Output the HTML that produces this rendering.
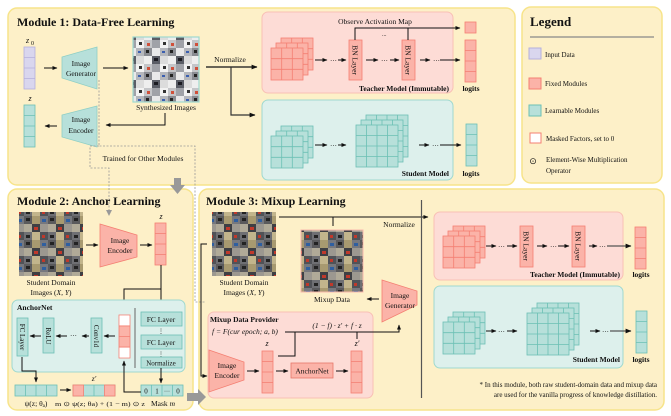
<!DOCTYPE html>
<html><head><meta charset="utf-8"><style>
html,body{margin:0;padding:0;background:#fff}
svg{display:block}
text{font-family:"Liberation Serif",serif;fill:#111}
.b{font-weight:bold}
</style></head><body>
<svg width="671" height="416" viewBox="0 0 671 416" xmlns="http://www.w3.org/2000/svg">
<defs>
<marker id="ar" viewBox="0 0 10 10" refX="9" refY="5" markerWidth="5" markerHeight="5" orient="auto"><path d="M0,1 L10,5 L0,9 z" fill="#111"/></marker>
<pattern id="img1" width="24" height="24" patternUnits="userSpaceOnUse">
<rect width="24" height="24" fill="#d4d4d6"/>
<rect x="0" y="0" width="8" height="8" fill="#8a8c92"/><rect x="8" y="0" width="8" height="8" fill="#e9e9ea"/><rect x="16" y="0" width="8" height="8" fill="#b5b7bc"/>
<rect x="0" y="8" width="8" height="8" fill="#eeeeee"/><rect x="8" y="8" width="8" height="8" fill="#5a5d66"/><rect x="16" y="8" width="8" height="8" fill="#dcdcdc"/>
<rect x="0" y="16" width="8" height="8" fill="#c4c5c8"/><rect x="8" y="16" width="8" height="8" fill="#a0a2a8"/><rect x="16" y="16" width="8" height="8" fill="#f2f2f2"/>
<rect x="2" y="2" width="3" height="3" fill="#222"/><rect x="10" y="10" width="4" height="3" fill="#1b1b22"/><rect x="18" y="3" width="3" height="2" fill="#3b5fb0"/><rect x="3" y="19" width="3" height="3" fill="#d0503a"/><rect x="19" y="18" width="3" height="3" fill="#333"/>
</pattern>
<pattern id="img2" width="24" height="24" patternUnits="userSpaceOnUse">
<rect width="24" height="24" fill="#8d8a80"/>
<rect x="0" y="0" width="8" height="8" fill="#5a5a5c"/><rect x="8" y="0" width="8" height="8" fill="#a89a70"/><rect x="16" y="0" width="8" height="8" fill="#76787e"/>
<rect x="0" y="8" width="8" height="8" fill="#b0aa98"/><rect x="8" y="8" width="8" height="8" fill="#3e3f44"/><rect x="16" y="8" width="8" height="8" fill="#9c9890"/>
<rect x="0" y="16" width="8" height="8" fill="#6e6f73"/><rect x="8" y="16" width="8" height="8" fill="#c2b58c"/><rect x="16" y="16" width="8" height="8" fill="#505257"/>
<rect x="2" y="2" width="4" height="3" fill="#222"/><rect x="10" y="11" width="4" height="3" fill="#c0392b"/><rect x="18" y="3" width="4" height="3" fill="#2f5fa0"/><rect x="2" y="19" width="4" height="3" fill="#222"/><rect x="18" y="19" width="3" height="3" fill="#c0392b"/>
</pattern>
<g id="g3t"><rect width="32" height="32" fill="#fbb3a8" stroke="#f47f72" stroke-width="0.8"/><path d="M10.7,0V32M21.3,0V32M0,10.7H32M0,21.3H32" stroke="#f47f72" stroke-width="0.8"/></g>
<g id="g3s"><rect width="32" height="32" fill="#b7e0da" stroke="#6cc0b4" stroke-width="0.8"/><path d="M10.7,0V32M21.3,0V32M0,10.7H32M0,21.3H32" stroke="#6cc0b4" stroke-width="0.8"/></g>
<g id="g4s"><rect width="42" height="42" fill="#b7e0da" stroke="#6cc0b4" stroke-width="0.8"/><path d="M10.5,0V42M21,0V42M31.5,0V42M0,10.5H42M0,21H42M0,31.5H42" stroke="#6cc0b4" stroke-width="0.8"/></g>
<g id="cT"><use href="#g3t" x="10" y="-10"/><use href="#g3t" x="5" y="-5"/><use href="#g3t"/></g>
<g id="cS"><use href="#g3s" x="10" y="-10"/><use href="#g3s" x="5" y="-5"/><use href="#g3s"/></g>
<g id="cB"><use href="#g4s" x="10" y="-10"/><use href="#g4s" x="5" y="-5"/><use href="#g4s"/></g>
<g id="vT"><rect width="11" height="42" fill="#fbb3a8" stroke="#f47f72" stroke-width="0.8"/><path d="M0,10.5H11M0,21H11M0,31.5H11" stroke="#f47f72" stroke-width="0.8"/></g>
<g id="vS"><rect width="11" height="42" fill="#b7e0da" stroke="#6cc0b4" stroke-width="0.8"/><path d="M0,10.5H11M0,21H11M0,31.5H11" stroke="#6cc0b4" stroke-width="0.8"/></g>
</defs>

<rect x="8" y="8" width="507" height="177" rx="9" fill="#fdf0c8" stroke="#f7e48a" stroke-width="1.5"/>
<rect x="522" y="7" width="140" height="176" rx="9" fill="#fdf0c8" stroke="#f7e48a" stroke-width="1.5"/>
<rect x="8" y="189" width="185" height="221" rx="9" fill="#fdf0c8" stroke="#f7e48a" stroke-width="1.5"/>
<rect x="199" y="189" width="465" height="221" rx="9" fill="#fdf0c8" stroke="#f7e48a" stroke-width="1.5"/>

<!-- ===== Module 1 ===== -->
<text x="17" y="26" class="b" font-size="12">Module 1: Data-Free Learning</text>
<text x="26" y="43" font-size="8" font-style="italic">z</text><text x="31" y="45" font-size="6">0</text>
<rect x="24" y="47" width="11" height="42" fill="#d9d6ee" stroke="#b5b0dc" stroke-width="0.8"/>
<path d="M24,57.5H35M24,68H35M24,78.5H35" stroke="#b5b0dc" stroke-width="0.8"/>
<line x1="44" y1="68" x2="57" y2="68" stroke="#111" marker-end="url(#ar)"/>
<polygon points="62,57 97,47 97,89 62,78" fill="#b7e0da" stroke="#8fcfc5" stroke-width="0.8"/>
<text x="81" y="66" font-size="7.5" text-anchor="middle">Image</text><text x="81" y="76" font-size="7.5" text-anchor="middle">Generator</text>
<line x1="103" y1="68" x2="128" y2="68" stroke="#111" marker-end="url(#ar)"/>
<rect x="133" y="37" width="66" height="65" fill="url(#img1)" stroke="#9fd9cf" stroke-width="1.2"/>
<text x="166" y="110" font-size="7.5" text-anchor="middle">Synthesized Images</text>
<text x="30" y="101" font-size="8" font-style="italic" text-anchor="middle">z</text>
<use href="#vS" x="24" y="105"/>
<polygon points="62,115 97,106 97,147 62,137" fill="#b7e0da" stroke="#8fcfc5" stroke-width="0.8"/>
<text x="81" y="122" font-size="7.5" text-anchor="middle">Image</text><text x="81" y="133" font-size="7.5" text-anchor="middle">Encoder</text>
<polyline points="165,113 165,125 106,125" fill="none" stroke="#111" marker-end="url(#ar)"/>
<line x1="57" y1="126" x2="45" y2="126" stroke="#111" marker-end="url(#ar)"/>
<polyline points="206,67 257,67" fill="none" stroke="#111" stroke-width="1.2" marker-end="url(#ar)"/>
<text x="230" y="62" font-size="7.5" text-anchor="middle">Normalize</text>
<polyline points="231,67 231,115 255,115" fill="none" stroke="#333" stroke-width="1.2" marker-end="url(#ar)"/>
<g fill="none" stroke="#999" stroke-width="0.8" stroke-dasharray="2,1.5">
<polyline points="99,80 99,146 195,146 195,302 205,302"/>
<polyline points="99,146 90,146 90,168 109,168 109,212"/>
</g>
<path d="M106,210 L109,216 L112,210z" fill="#999"/>
<text x="143" y="161" font-size="7.5" text-anchor="middle">Trained for Other Modules</text>
<rect x="174" y="178" width="7" height="8" fill="#999"/><path d="M170,185 L185,185 L177.5,194z" fill="#999"/>

<rect x="262" y="12" width="191" height="81" rx="6" fill="#fddcd6" stroke="#f9c0b5"/>
<use href="#cT" x="271" y="48"/>
<text x="330" y="63" font-size="7">···</text>
<line x1="315" y1="60" x2="327" y2="60" stroke="#111" marker-end="url(#ar)"/>
<line x1="338" y1="60" x2="346" y2="60" stroke="#111" marker-end="url(#ar)"/>
<rect x="349" y="40" width="13" height="40" fill="#fbb3a8" stroke="#f47f72" stroke-width="0.8"/>
<text transform="translate(352.5,60) rotate(90)" font-size="7.5" text-anchor="middle">BN Layer</text>
<line x1="366" y1="60" x2="378" y2="60" stroke="#111" marker-end="url(#ar)"/>
<text x="381" y="63" font-size="7">···</text>
<line x1="390" y1="60" x2="399" y2="60" stroke="#111" marker-end="url(#ar)"/>
<rect x="402" y="40" width="13" height="40" fill="#fbb3a8" stroke="#f47f72" stroke-width="0.8"/>
<text transform="translate(405.5,60) rotate(90)" font-size="7.5" text-anchor="middle">BN Layer</text>
<line x1="420" y1="60" x2="430" y2="60" stroke="#111" marker-end="url(#ar)"/>
<text x="433" y="63" font-size="7">···</text>
<line x1="440" y1="60" x2="460" y2="60" stroke="#111" marker-end="url(#ar)"/>
<text x="375" y="24" font-size="7.5" text-anchor="middle">Observe Activation Map</text>
<polyline points="355,40 355,28 460,28" fill="none" stroke="#111" marker-end="url(#ar)"/>
<line x1="408" y1="40" x2="408" y2="28" stroke="#111"/>
<text x="382" y="36" font-size="6">...</text>
<rect x="465" y="22" width="11" height="11" fill="#fbb3a8" stroke="#f47f72" stroke-width="0.8"/>
<use href="#vT" x="465" y="40"/>
<text x="449" y="91" class="b" font-size="7.5" text-anchor="end">Teacher Model (Immutable)</text>
<text x="471" y="91" class="b" font-size="7.5" text-anchor="middle">logits</text>
<rect x="262" y="100" width="191" height="80" rx="6" fill="#ddf0ec" stroke="#9fd9cf"/>
<use href="#cS" x="271" y="136"/>
<line x1="315" y1="145" x2="327" y2="145" stroke="#111" marker-end="url(#ar)"/>
<text x="330" y="148" font-size="7">···</text>
<line x1="338" y1="145" x2="346" y2="145" stroke="#111" marker-end="url(#ar)"/>
<use href="#cB" x="356" y="125"/>
<line x1="419" y1="145" x2="429" y2="145" stroke="#111" marker-end="url(#ar)"/>
<text x="432" y="148" font-size="7">···</text>
<line x1="440" y1="145" x2="461" y2="145" stroke="#111" marker-end="url(#ar)"/>
<use href="#vS" x="466" y="124"/>
<text x="449" y="176" class="b" font-size="7.5" text-anchor="end">Student Model</text>
<text x="471" y="176" class="b" font-size="7.5" text-anchor="middle">logits</text>

<!-- ===== Legend ===== -->
<text x="530" y="26" class="b" font-size="13">Legend</text>
<line x1="530" y1="37" x2="654" y2="37" stroke="#888" stroke-width="1.2"/>
<rect x="529" y="48" width="12" height="11" fill="#d9d6ee" stroke="#b5b0dc"/><text x="545" y="57" font-size="7">Input Data</text>
<rect x="529" y="78" width="12" height="11" fill="#fbb3a8" stroke="#f47f72"/><text x="545" y="86" font-size="7">Fixed Modules</text>
<rect x="529" y="105" width="12" height="11" fill="#b7e0da" stroke="#6cc0b4"/><text x="545" y="113" font-size="7">Learnable Modules</text>
<rect x="530" y="133" width="11" height="10" fill="#fff" stroke="#f47f72"/><text x="546" y="141" font-size="7">Masked Factors, set to 0</text>
<text x="533" y="164" font-size="9" text-anchor="middle">⊙</text>
<text x="546" y="162" font-size="7">Element-Wise Multiplication</text><text x="546" y="173" font-size="7">Operator</text>

<!-- ===== Module 2 ===== -->
<text x="17" y="205" class="b" font-size="12">Module 2: Anchor Learning</text>
<rect x="19" y="212" width="64" height="64" fill="url(#img2)"/>
<text x="51" y="285" font-size="7.5" text-anchor="middle">Student Domain</text>
<text x="51" y="295" font-size="7.5" text-anchor="middle">Images (<tspan font-style="italic">X, Y</tspan>)</text>
<line x1="86" y1="245" x2="98" y2="245" stroke="#111" marker-end="url(#ar)"/>
<polygon points="100,224 137,235 137,257 100,267" fill="#fbb3a8" stroke="#f47f72" stroke-width="0.8"/>
<text x="120" y="243" font-size="7.5" text-anchor="middle">Image</text><text x="120" y="253" font-size="7.5" text-anchor="middle">Encoder</text>
<line x1="140" y1="245" x2="152" y2="245" stroke="#111" marker-end="url(#ar)"/>
<text x="161" y="219" font-size="8" font-style="italic" text-anchor="middle">z</text>
<use href="#vT" x="155" y="223"/>
<line x1="161" y1="265" x2="161" y2="306" stroke="#111" marker-end="url(#ar)"/>
<polyline points="161,289 124,289 124,306" fill="none" stroke="#111" marker-end="url(#ar)"/>
<rect x="12" y="300" width="173" height="72" rx="6" fill="#ddf0ec" stroke="#9fd9cf"/>
<text x="17" y="310" class="b" font-size="7.5">AnchorNet</text>
<line x1="135" y1="308" x2="135" y2="368" stroke="#666" stroke-width="1"/>
<rect x="141" y="312" width="41" height="14" fill="#b7e0da" stroke="#6cc0b4" stroke-width="0.8"/><text x="161" y="322" font-size="7.5" text-anchor="middle">FC  Layer</text>
<text x="161" y="333" font-size="6" text-anchor="middle">⋮</text>
<rect x="141" y="335" width="41" height="14" fill="#b7e0da" stroke="#6cc0b4" stroke-width="0.8"/><text x="161" y="345" font-size="7.5" text-anchor="middle">FC  Layer</text>
<text x="161" y="356" font-size="6" text-anchor="middle">⋮</text>
<rect x="141" y="357" width="41" height="11" fill="#b7e0da" stroke="#6cc0b4" stroke-width="0.8"/><text x="161" y="365.5" font-size="7" text-anchor="middle">Normalize</text>
<rect x="119" y="315" width="11" height="43" fill="#fbb3a8" stroke="#f47f72" stroke-width="0.8"/>
<rect x="119.4" y="315.4" width="10.2" height="10" fill="#fff"/><rect x="119.4" y="347.6" width="10.2" height="10" fill="#fff"/>
<path d="M119,326H130M119,336.5H130M119,347H130" stroke="#f47f72" stroke-width="0.8"/>
<line x1="115" y1="336" x2="104" y2="336" stroke="#111" marker-end="url(#ar)"/>
<rect x="91" y="318" width="11" height="35" fill="#b7e0da" stroke="#6cc0b4" stroke-width="0.8"/>
<text transform="translate(94,336) rotate(90)" font-size="7" text-anchor="middle">Conv1d</text>
<line x1="89" y1="336" x2="82" y2="336" stroke="#111" marker-end="url(#ar)"/>
<text x="70" y="338" font-size="7">···</text>
<line x1="67" y1="336" x2="56" y2="336" stroke="#111" marker-end="url(#ar)"/>
<rect x="43" y="318" width="11" height="35" fill="#b7e0da" stroke="#6cc0b4" stroke-width="0.8"/>
<text transform="translate(46,336) rotate(90)" font-size="7" text-anchor="middle">ReLU</text>
<line x1="41" y1="336" x2="30" y2="336" stroke="#111" marker-end="url(#ar)"/>
<rect x="17" y="318" width="11" height="38" fill="#b7e0da" stroke="#6cc0b4" stroke-width="0.8"/>
<text transform="translate(20,337) rotate(90)" font-size="7" text-anchor="middle">FC Layer</text>
<polyline points="22,357 22,371 36,371 36,382" fill="none" stroke="#111" marker-end="url(#ar)"/>
<g stroke="#6cc0b4" stroke-width="0.8">
<rect x="15" y="385" width="42" height="11" fill="#b7e0da"/><path d="M25.5,385V396M36,385V396M46.5,385V396"/>
</g>
<line x1="60" y1="390" x2="71" y2="390" stroke="#111" marker-end="url(#ar)"/>
<g stroke="#6cc0b4" stroke-width="0.8">
<rect x="73" y="385" width="42" height="11" fill="#b7e0da"/>
<rect x="73" y="385" width="10.5" height="11" fill="#fbb3a8" stroke="#f47f72"/><rect x="104.5" y="385" width="10.5" height="11" fill="#fbb3a8" stroke="#f47f72"/>
<path d="M94,385V396"/>
</g>
<text x="94" y="381" font-size="7.5" font-style="italic" text-anchor="middle">z′</text>
<rect x="141" y="385" width="42" height="11" fill="#b7e0da" stroke="#6cc0b4" stroke-width="0.8"/>
<path d="M151.5,385V396M162,385V396M172.5,385V396" stroke="#6cc0b4" stroke-width="0.8"/>
<text x="146" y="393.5" font-size="7" text-anchor="middle">0</text><text x="157" y="393.5" font-size="7" text-anchor="middle">1</text><text x="167" y="393" font-size="6" text-anchor="middle">···</text><text x="178" y="393.5" font-size="7" text-anchor="middle">0</text>
<line x1="161" y1="368" x2="161" y2="383" stroke="#111" marker-end="url(#ar)"/>
<polyline points="141,392 124,392 124,361" fill="none" stroke="#111" marker-end="url(#ar)"/>
<text x="36" y="406" font-size="7.5" text-anchor="middle">ψ(z; θ<tspan font-size="5" dy="1">a</tspan><tspan dy="-1">)</tspan></text>
<text x="100" y="406" font-size="6.5" text-anchor="middle" textLength="90" lengthAdjust="spacingAndGlyphs">m ⊙ ψ(z; θa) + (1 − m) ⊙ z</text>
<text x="163" y="406" font-size="7.5" text-anchor="middle">Mask <tspan font-style="italic">m</tspan></text>
<rect x="187" y="393" width="12" height="8" fill="#999"/><path d="M198,389 L206,397 L198,405z" fill="#999"/>

<!-- ===== Module 3 ===== -->
<text x="206" y="205" class="b" font-size="12">Module 3: Mixup Learning</text>
<rect x="212" y="212" width="64" height="64" fill="url(#img2)"/>
<text x="244" y="285" font-size="7.5" text-anchor="middle">Student Domain</text>
<text x="244" y="295" font-size="7.5" text-anchor="middle">Images (<tspan font-style="italic">X, Y</tspan>)</text>
<line x1="279" y1="217" x2="428" y2="217" stroke="#111" marker-end="url(#ar)"/>
<line x1="333" y1="217" x2="333" y2="226" stroke="#111"/>
<text x="399" y="227" font-size="7.5" text-anchor="middle">Normalize</text>
<line x1="421.5" y1="200" x2="421.5" y2="398" stroke="#555" stroke-width="1.2"/>
<rect x="301" y="230" width="62" height="62" fill="url(#img2)" stroke="#f9b9ad"/>
<text x="332" y="302" font-size="7.5" text-anchor="middle">Mixup Data</text>
<polygon points="382,280 417,291 417,305 382,322" fill="#fbb3a8" stroke="#f47f72" stroke-width="0.8"/>
<text x="400" y="298" font-size="7.5" text-anchor="middle">Image</text><text x="400" y="308" font-size="7.5" text-anchor="middle">Generator</text>
<line x1="379" y1="299" x2="367" y2="299" stroke="#111" marker-end="url(#ar)"/>
<polyline points="207,244 201,244 201,376 207,376" fill="none" stroke="#111" marker-end="url(#ar)"/>
<rect x="208" y="312" width="165" height="86" rx="6" fill="#fddcd6" stroke="#f9c0b5"/>
<text x="210" y="322" class="b" font-size="7.5">Mixup Data Provider</text>
<text x="212" y="334" font-size="7.5" font-style="italic">f = F(cur epoch; a, b)</text>
<text x="337" y="328" font-size="7.5" text-anchor="middle" font-style="italic">(1 − f) · z′ + f · z</text>
<polyline points="285,332 399,332 399,325" fill="none" stroke="#111" marker-end="url(#ar)"/>
<polyline points="278,356 295,356 295,332" fill="none" stroke="#111"/>
<line x1="357" y1="339" x2="357" y2="332" stroke="#111"/>
<polygon points="209,350 244,362 244,380 209,392" fill="#fbb3a8" stroke="#f47f72" stroke-width="0.8"/>
<text x="227" y="368" font-size="7.5" text-anchor="middle">Image</text><text x="227" y="378" font-size="7.5" text-anchor="middle">Encoder</text>
<line x1="247" y1="371" x2="259" y2="371" stroke="#111" marker-end="url(#ar)"/>
<text x="267" y="346" font-size="8" font-style="italic" text-anchor="middle">z</text>
<use href="#vT" x="262" y="351"/>
<line x1="276" y1="371" x2="288" y2="371" stroke="#111" marker-end="url(#ar)"/>
<rect x="291" y="363" width="42" height="15" fill="#fbb3a8" stroke="#e8776a" stroke-width="0.8"/>
<text x="312" y="373.5" font-size="7.5" text-anchor="middle">AnchorNet</text>
<line x1="336" y1="371" x2="348" y2="371" stroke="#111" marker-end="url(#ar)"/>
<text x="357" y="346" font-size="8" font-style="italic" text-anchor="middle">z′</text>
<use href="#vT" x="351" y="351"/>
<rect x="434" y="212" width="189" height="68" rx="6" fill="#fddcd6" stroke="#f9c0b5"/>
<use href="#cT" x="443" y="236"/>
<line x1="486" y1="246" x2="496" y2="246" stroke="#111" marker-end="url(#ar)"/>
<text x="498" y="249" font-size="7">···</text>
<line x1="507" y1="246" x2="517" y2="246" stroke="#111" marker-end="url(#ar)"/>
<rect x="520" y="226" width="13" height="41" fill="#fbb3a8" stroke="#f47f72" stroke-width="0.8"/>
<text transform="translate(523.5,246) rotate(90)" font-size="7.5" text-anchor="middle">BN Layer</text>
<line x1="537" y1="246" x2="547" y2="246" stroke="#111" marker-end="url(#ar)"/>
<text x="550" y="249" font-size="7">···</text>
<line x1="558" y1="246" x2="569" y2="246" stroke="#111" marker-end="url(#ar)"/>
<rect x="572" y="226" width="13" height="41" fill="#fbb3a8" stroke="#f47f72" stroke-width="0.8"/>
<text transform="translate(575.5,246) rotate(90)" font-size="7.5" text-anchor="middle">BN Layer</text>
<line x1="589" y1="246" x2="597" y2="246" stroke="#111" marker-end="url(#ar)"/>
<text x="599" y="249" font-size="7">···</text>
<line x1="607" y1="246" x2="631" y2="246" stroke="#555" stroke-width="1.2" marker-end="url(#ar)"/>
<use href="#vT" x="635" y="227"/>
<text x="620" y="277" class="b" font-size="7.5" text-anchor="end">Teacher Model (Immutable)</text>
<text x="641" y="277" class="b" font-size="7.5" text-anchor="middle">logits</text>
<rect x="434" y="286" width="189" height="82" rx="6" fill="#ddf0ec" stroke="#9fd9cf"/>
<use href="#cS" x="443" y="322"/>
<line x1="486" y1="331" x2="496" y2="331" stroke="#111" marker-end="url(#ar)"/>
<text x="498" y="334" font-size="7">···</text>
<line x1="507" y1="331" x2="517" y2="331" stroke="#111" marker-end="url(#ar)"/>
<use href="#cB" x="527" y="313"/>
<line x1="590" y1="331" x2="600" y2="331" stroke="#111" marker-end="url(#ar)"/>
<text x="602" y="334" font-size="7">···</text>
<line x1="610" y1="331" x2="631" y2="331" stroke="#555" stroke-width="1.2" marker-end="url(#ar)"/>
<use href="#vS" x="636" y="311"/>
<text x="620" y="362" class="b" font-size="7.5" text-anchor="end">Student Model</text>
<text x="641" y="362" class="b" font-size="7.5" text-anchor="middle">logits</text>
<text x="657" y="387" font-size="7" text-anchor="end">* In this module, both raw student-domain data and mixup data</text>
<text x="657" y="397" font-size="7" text-anchor="end">are used for the vanilla progress of knowledge distillation.</text>
</svg>
</body></html>
